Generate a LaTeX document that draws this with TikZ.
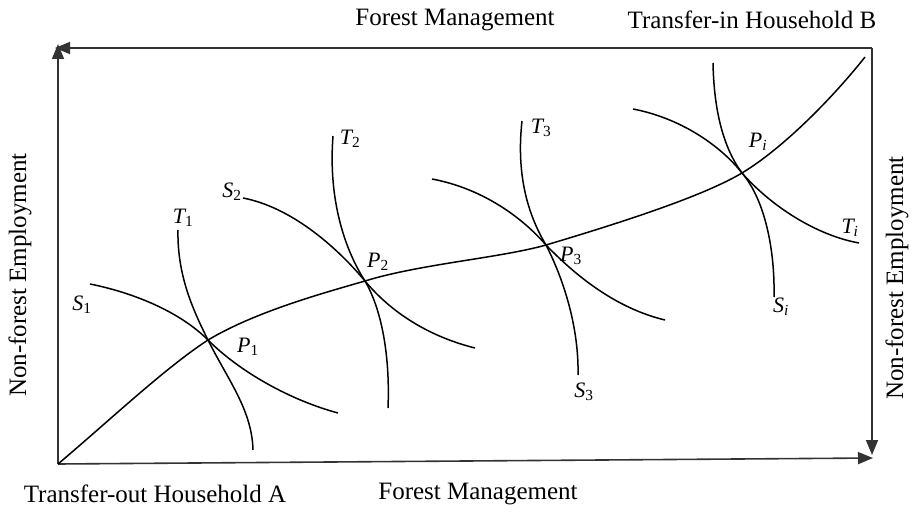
\documentclass[tikz,border=0pt]{standalone}
\usepackage{fontspec}
\setmainfont{Liberation Serif}
\usetikzlibrary{arrows.meta}

\begin{document}
\begin{tikzpicture}[x=1pt, y=-1pt, font=\fontsize{25}{30}\selectfont,
	axis/.style={line width=1.6pt, black!80, -{Triangle[length=15pt, width=12pt]}},
	curve/.style={line width=1.5pt},
	lbl/.style={inner sep=0pt, font=\fontsize{22}{26}\selectfont\itshape}]
	\useasboundingbox (0,0) rectangle (912,511);
	% corners of the box
	\coordinate (oa) at (58,464); \coordinate (ob) at (872,48);
	\coordinate (tipL) at (58,44); \coordinate (tipT) at (55,48);
	\coordinate (tipB) at (873,458); \coordinate (tipR) at (872,455);
	\draw[axis] (oa) -- (tipL);
	\draw[axis] (ob) -- (tipT);
	\draw[axis] (oa) -- (tipB);
	\draw[axis] (ob) -- (tipR);
	% tangency points
	\coordinate (P1) at (208,340); \coordinate (P2) at (365,281);
	\coordinate (P3) at (546,245); \coordinate (Pi) at (742,173);
	% contract curve
	\draw[curve] (oa) .. controls (110,420) and (165,368) .. (P1)
		.. controls (255,312) and (320,294) .. (P2)
		.. controls (420,264) and (500,258) .. (P3)
		.. controls (630,220) and (705,195) .. (Pi)
		.. controls (785,147) and (835,95) .. (865,57);
	% indifference curves
	\draw[curve] (90,284) .. controls (130,292) and (178,310) .. (P1) .. controls (240,372) and (290,400) .. (338,413);
	\draw[curve] (178,230) .. controls (177,275) and (193,310) .. (P1) .. controls (228,380) and (252,410) .. (253,450);
	\draw[curve] (243,198) .. controls (290,207) and (335,245) .. (P2) .. controls (395,317) and (435,338) .. (475,348);
	\draw[curve] (333,136) .. controls (328,200) and (345,250) .. (P2) .. controls (383,312) and (390,360) .. (388,408);
	\draw[curve] (432,179) .. controls (480,188) and (520,215) .. (P3) .. controls (575,275) and (615,308) .. (665,320);
	\draw[curve] (522,121) .. controls (516,175) and (528,215) .. (P3) .. controls (565,282) and (579,330) .. (578,375);
	\draw[curve] (713,63) .. controls (714,115) and (725,150) .. (Pi) .. controls (765,200) and (775,250) .. (774,297);
	\draw[curve] (633,109) .. controls (680,118) and (720,145) .. (Pi) .. controls (770,205) and (815,235) .. (859,243);
	% labels
	\node[lbl] (s1) at (82,305) {S\textsubscript{\upshape 1}};
	\node[lbl] (t1) at (183,218) {T\textsubscript{\upshape 1}};
	\node[lbl] (p1) at (248,347) {P\textsubscript{\upshape 1}};
	\node[lbl] (s2) at (232,192) {S\textsubscript{\upshape 2}};
	\node[lbl] (t2) at (350,139) {T\textsubscript{\upshape 2}};
	\node[lbl] (p2) at (378,262) {P\textsubscript{\upshape 2}};
	\node[lbl] (t3) at (541,128) {T\textsubscript{\upshape 3}};
	\node[lbl] (p3) at (571,256) {P\textsubscript{\upshape 3}};
	\node[lbl] (s3) at (584,392) {S\textsubscript{\upshape 3}};
	\node[lbl] (pi) at (758,142) {P\textsubscript{i}};
	\node[lbl] (ti) at (850,228) {T\textsubscript{i}};
	\node[lbl] (si) at (781,307) {S\textsubscript{i}};
	% axis titles
	\node (fmtop) at (455,20) {Forest Management};
	\node (hhB) at (752,20) {Transfer-in Household B};
	\node (hhA) at (155,494) {Transfer-out Household A};
	\node (fmbot) at (478,494) {Forest Management};
	\node[rotate=90] (nfl) at (20,275) {Non-forest Employment};
	\node[rotate=90] (nfr) at (897,278) {Non-forest Employment};
\end{tikzpicture}
\end{document}
